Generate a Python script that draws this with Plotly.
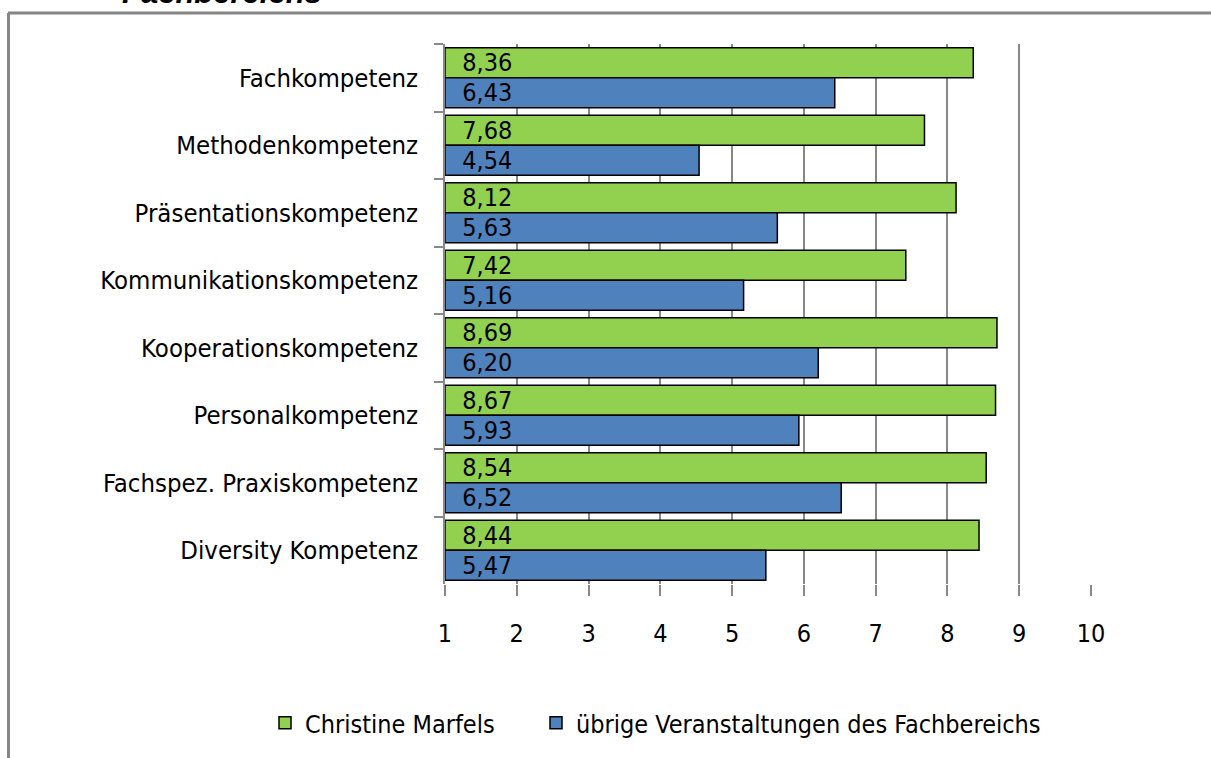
import plotly.graph_objects as go

categories = ["Fachkompetenz", "Methodenkompetenz", "Präsentationskompetenz",
              "Kommunikationskompetenz", "Kooperationskompetenz", "Personalkompetenz",
              "Fachspez. Praxiskompetenz", "Diversity Kompetenz"]
marfels = [8.36, 7.68, 8.12, 7.42, 8.69, 8.67, 8.54, 8.44]
uebrige = [6.43, 4.54, 5.63, 5.16, 6.20, 5.93, 6.52, 5.47]
series_names = ["Christine Marfels", "übrige Veranstaltungen des Fachbereichs"]
tick_values = list(range(1, 11))
scale_min = 1

W, H = 1211, 758
L, R, T, B = 445, 120, 44, 174
PW = W - L - R
PH = H - T - B

def px_x(p):
    return (p - L) / PW

def px_y(p):
    return (H - B - p) / PH

NARROW = "DejaVu Sans Condensed, Liberation Sans Narrow, sans-serif"

def fmt(v):
    return "\u00a0\u00a0" + f"{v:.2f}".replace(".", ",")

fig = go.Figure()
for name, vals, color, leg in [(series_names[0], marfels, "#92D050", "legend"),
                               (series_names[1], uebrige, "#4F81BD", "legend2")]:
    fig.add_trace(go.Bar(
        y=categories, x=[v - scale_min for v in vals], base=scale_min,
        orientation="h", name=name, legend=leg,
        marker=dict(color=color, line=dict(color="black", width=1.5)),
        text=[fmt(v) for v in vals], textposition="inside",
        insidetextanchor="start", constraintext="none",
        textfont=dict(family=NARROW, size=25, color="black"),
        cliponaxis=False,
    ))

legend_font = dict(family=NARROW, size=25, color="black")
fig.update_layout(
    width=W, height=H,
    margin=dict(l=L, r=R, t=T, b=B, autoexpand=False),
    paper_bgcolor="white", plot_bgcolor="white",
    barmode="group", bargap=0.11, bargroupgap=0.0,
    showlegend=True,
    legend=dict(orientation="h", x=px_x(265), xanchor="left",
                y=px_y(723), yanchor="middle", font=legend_font,
                bgcolor="rgba(0,0,0,0)"),
    legend2=dict(orientation="h", x=px_x(536), xanchor="left",
                 y=px_y(723), yanchor="middle", font=legend_font,
                 bgcolor="rgba(0,0,0,0)"),
    xaxis=dict(range=[1, 10], tickvals=tick_values,
               showgrid=True, gridcolor="#888888", gridwidth=1.5,
               zeroline=False, showline=False,
               ticks="outside", ticklen=11, tickcolor="#888888", tickwidth=1.5,
               ticklabelstandoff=16,
               tickfont=dict(family=NARROW, size=25, color="black")),
    yaxis=dict(autorange="reversed", showgrid=False, zeroline=False,
               showline=True, linecolor="#888888", linewidth=1.5,
               ticks="outside", tickson="boundaries", ticklen=9,
               tickcolor="#888888", tickwidth=1.5, ticklabelstandoff=20,
               tickfont=dict(family=NARROW, size=25.5, color="black")),
    shapes=[
        dict(type="line", xref="paper", yref="paper",
             x0=px_x(8), x1=px_x(1215), y0=px_y(13), y1=px_y(13),
             line=dict(color="#868686", width=3)),
        dict(type="line", xref="paper", yref="paper",
             x0=px_x(8.5), x1=px_x(8.5), y0=px_y(13), y1=px_y(762),
             line=dict(color="#868686", width=3)),
    ],
    annotations=[
        dict(text="<b><i>Fachbereichs</i></b>", xref="paper", yref="paper",
             x=px_x(120), y=px_y(12), xanchor="left", yanchor="bottom",
             showarrow=False,
             font=dict(family="Liberation Sans, Arial, sans-serif", size=31,
                       color="black")),
    ],
)

fig.write_html("out.html", config={"displayModeBar": False},
               post_script="document.body.style.margin='0';document.body.style.overflow='hidden';")
